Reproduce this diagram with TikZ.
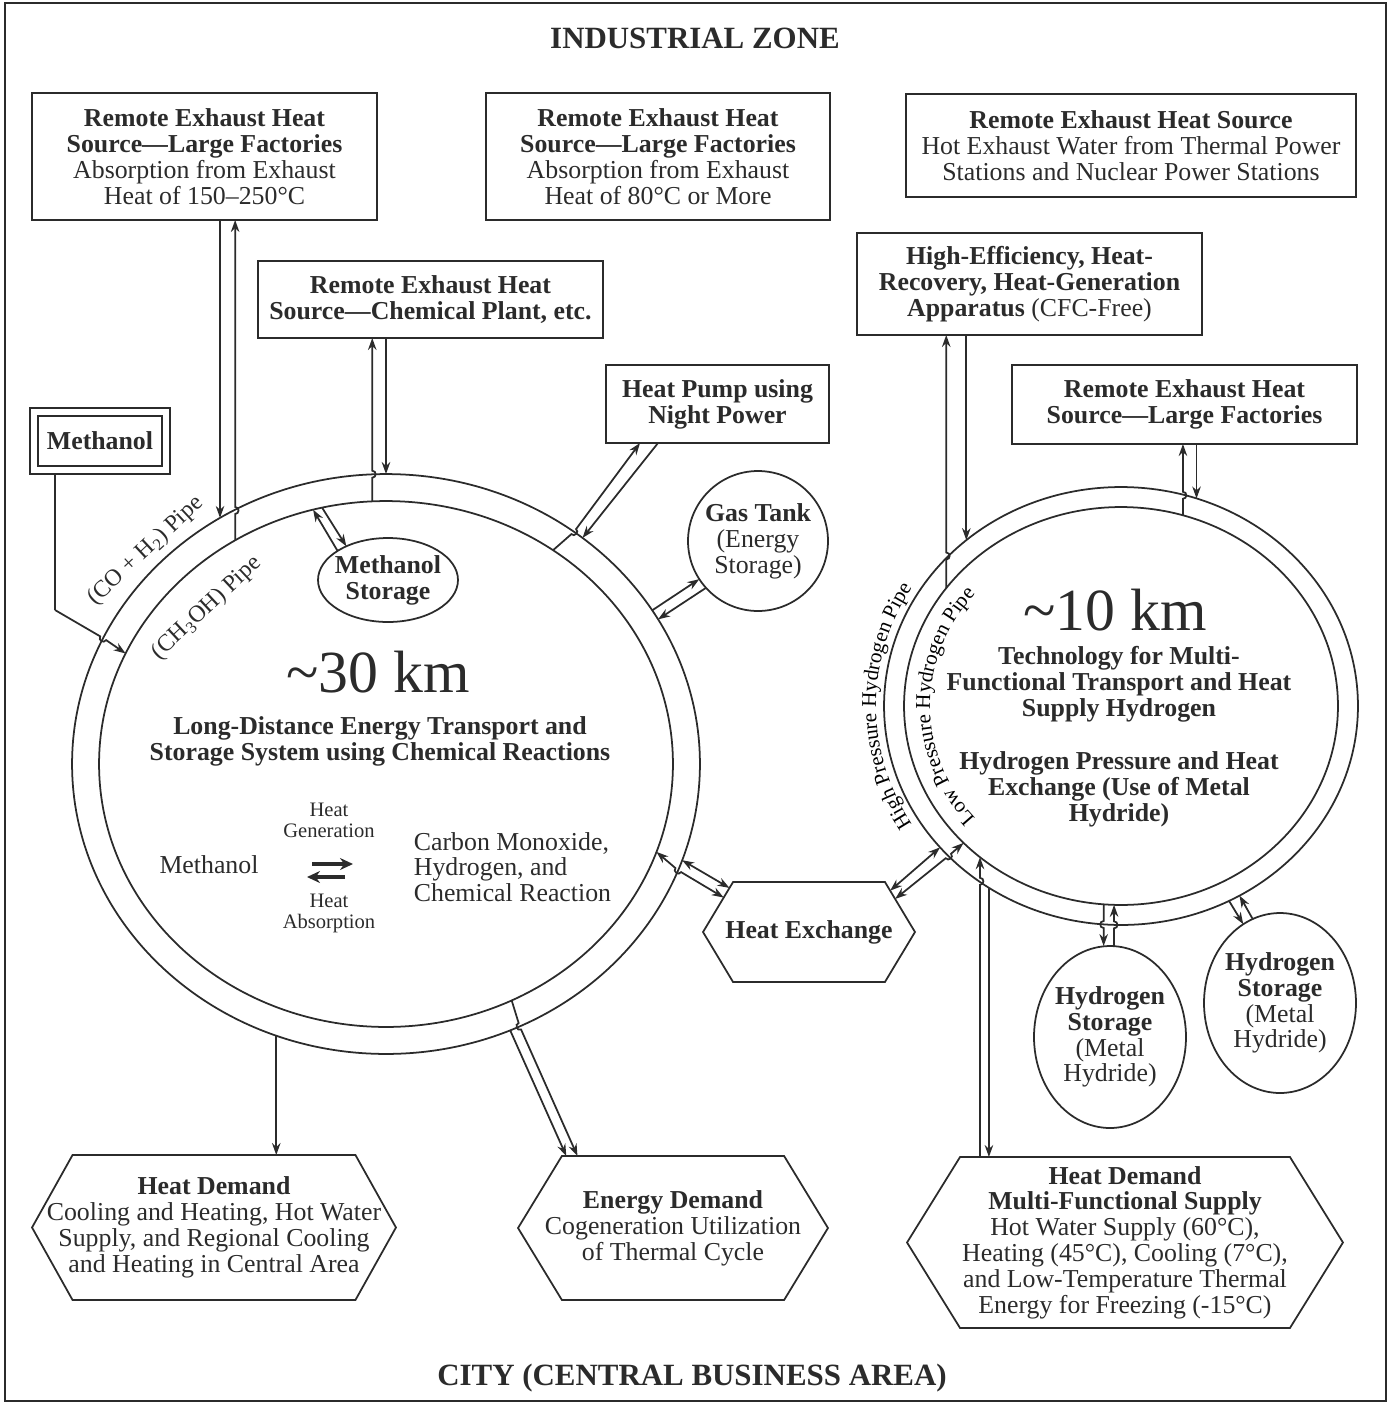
\documentclass[tikz,border=0pt]{standalone}
\usepackage{fontspec}
\setmainfont{Liberation Serif}
\usetikzlibrary{arrows.meta, calc, shapes.geometric, shapes.symbols, decorations.text}

\definecolor{ink}{HTML}{2B2B2B}

\newcommand{\fbody}{\fontsize{14.7}{14.7}\selectfont}
\newcommand{\fsmall}{\fontsize{11.7}{11.9}\selectfont}
\newcommand{\ftitle}{\fontsize{17.6}{20}\selectfont\bfseries}
\newcommand{\fkm}{\fontsize{34}{36}\selectfont}
\newcommand{\fpipe}{\fontsize{13.5}{15}\selectfont}
\newcommand{\fpipeR}{\fontsize{12}{14}\selectfont}

% line with a small jump where it crosses a ring
\newcommand{\hopline}[4][]{%
  \path ($(#3)!0.07cm!(#2)$) coordinate (hopA)
        ($(#3)!0.07cm!(#4)$) coordinate (hopB);
  \path ($(hopA)!0.09cm!-90:(#3)$) coordinate (hopCA)
        ($(hopB)!0.09cm!90:(#3)$) coordinate (hopCB);
  \draw[#1] (#2) -- (hopA) .. controls (hopCA) and (hopCB) .. (hopB) -- (#4);
}

\begin{document}
\begin{tikzpicture}[x=0.02cm, y=-0.02cm, line width=1pt, color=ink, font=\fbody,
    >={Stealth[length=0.24cm, width=0.17cm]},
    every node/.style={align=center},
    box/.style={draw, rectangle, inner sep=0pt, outer sep=0pt},
    ring/.style={draw, ellipse, inner sep=0pt, outer sep=0pt},
    tank/.style={draw, ellipse, inner sep=-4pt, outer sep=0pt},
    hexa/.style={draw, signal, signal to=west and east, signal pointer angle=#1,
                 inner ysep=0pt, inner xsep=-0.6cm, outer sep=0pt},
    rxarrow/.style={line width=2.2pt, -{Stealth[length=0.26cm, width=0.24cm]}}]

    \useasboundingbox (0,0) rectangle (1390,1404);
    \draw[line width=1.4pt] (5,3) rectangle (1386,1401);

    % --- zone titles ---
    \node[font=\ftitle] (ind) at (695,38) {INDUSTRIAL ZONE};
    \node[font=\ftitle] (city) at (692,1378) {CITY (CENTRAL BUSINESS AREA)};

    % --- heat sources ---
    \node[box, minimum width=6.9cm, minimum height=2.54cm] (A) at (204.5,156.5)
        {\textbf{Remote Exhaust Heat}\\\textbf{Source---Large Factories}\\Absorption from Exhaust\\Heat of 150--250°C};
    \node[box, minimum width=6.88cm, minimum height=2.54cm] (B) at (658,156.5)
        {\textbf{Remote Exhaust Heat}\\\textbf{Source---Large Factories}\\Absorption from Exhaust\\Heat of 80°C or More};
    \node[box, minimum width=9cm, minimum height=2.06cm] (C) at (1131,145.5)
        {\textbf{Remote Exhaust Heat Source}\\Hot Exhaust Water from Thermal Power\\Stations and Nuclear Power Stations};
    \node[box, minimum width=6.9cm, minimum height=1.54cm, font={\fbody\bfseries}] (D) at (430.5,299.5)
        {Remote Exhaust Heat\\Source---Chemical Plant, etc.};
    \node[box, minimum width=6.9cm, minimum height=2.04cm] (E) at (1029.5,284)
        {\textbf{High-Efficiency, Heat-}\\\textbf{Recovery, Heat-Generation}\\\textbf{Apparatus} (CFC-Free)};
    \node[box, minimum width=4.46cm, minimum height=1.56cm, font={\fbody\bfseries}] (F) at (717.5,404)
        {Heat Pump using\\Night Power};
    \node[box, minimum width=6.9cm, minimum height=1.58cm, font={\fbody\bfseries}] (G) at (1184.5,404.5)
        {Remote Exhaust Heat\\Source---Large Factories};
    \node[box, double, double distance=0.13cm, outer sep=0.09cm, minimum width=2.64cm,
          minimum height=1.16cm, font={\fbody\bfseries}] (MB) at (100,441) {Methanol};

    % --- the two rings ---
    \coordinate (Lc) at (386,764);
    \coordinate (Rc) at (1121,706);
    \node[ring, minimum width=12.56cm, minimum height=11.6cm] (Lout) at (Lc) {};
    \node[ring, minimum width=11.48cm, minimum height=10.52cm] (Lin) at (Lc) {};
    \node[ring, minimum width=9.48cm, minimum height=8.76cm] (Rout) at (Rc) {};
    \node[ring, minimum width=8.68cm, minimum height=7.96cm] (Rin) at (Rc) {};

    % pipe labels
    \node[font=\fpipe, rotate=43] (copipe) at (146,551) {(CO + H\textsubscript{2}) Pipe};
    \node[font=\fpipe, rotate=43] (chpipe) at (207,608) {(CH\textsubscript{3}OH) Pipe};
    \path[decorate, decoration={text along path, text align=center,
          text={|\fpipeR|High Pressure Hydrogen Pipe}}]
        ([shift={(215:4.9cm and 4.54cm)}]Rc) arc[start angle=215, end angle=145, x radius=4.9cm, y radius=4.54cm];
    \path[decorate, decoration={text along path, text align=center,
          text={|\fpipeR|Low Pressure Hydrogen Pipe}}]
        ([shift={(225:3.82cm and 3.46cm)}]Rc) arc[start angle=225, end angle=135, x radius=3.82cm, y radius=3.46cm];

    % --- inside the left ring ---
    \node[font=\fkm] (km30) at (378,672) {\textasciitilde30 km};
    \node[font={\fbody\bfseries}] (ldist) at (380,741)
        {Long-Distance Energy Transport and\\Storage System using Chemical Reactions};
    \node (meth) at (209,865) {Methanol};
    \node[font=\fsmall] (hgen) at (329,820) {Heat\\Generation};
    \node[font=\fsmall] (habs) at (329,913) {Heat\\Absorption};
    \node[anchor=west, align=left, inner xsep=0pt] (cmono) at (413,867) {Carbon Monoxide,\\Hydrogen, and\\Chemical Reaction};
    \coordinate (rxn) at (329,870.5);
    \draw[rxarrow] ([shift={(-17,-6.5)}]rxn) -- ([shift={(24,-6.5)}]rxn);
    \draw[rxarrow] ([shift={(16,6.5)}]rxn) -- ([shift={(-22,6.5)}]rxn);

    % --- inside the right ring ---
    \node[font=\fkm] (km10) at (1115,610) {\textasciitilde10 km};
    \node[font={\fbody\bfseries}] (tech) at (1119,684)
        {Technology for Multi-\\Functional Transport and Heat\\Supply Hydrogen};
    \node[font={\fbody\bfseries}] (hpx) at (1119,789)
        {Hydrogen Pressure and Heat\\Exchange (Use of Metal\\Hydride)};

    % --- storage and exchange ---
    \node[tank, minimum width=2.8cm, minimum height=1.68cm, font={\fbody\bfseries}] (MS) at (388,580)
        {Methanol\\Storage};
    \node[draw, circle, inner sep=0pt, outer sep=0pt, minimum size=2.8cm] (GT) at (758,541)
        {\textbf{Gas Tank}\\(Energy\\Storage)};
    \node[hexa=118, minimum width=4.24cm, minimum height=2cm, font={\fbody\bfseries}] (HX) at (809,932)
        {Heat Exchange};
    \node[tank, minimum width=3.04cm, minimum height=3.64cm] (HS1) at (1110,1037)
        {\textbf{Hydrogen}\\\textbf{Storage}\\(Metal\\Hydride)};
    \node[tank, minimum width=3.04cm, minimum height=3.6cm] (HS2) at (1280,1003)
        {\textbf{Hydrogen}\\\textbf{Storage}\\(Metal\\Hydride)};

    % --- demand ---
    \node[hexa=121.6, minimum width=7.28cm, minimum height=2.9cm] (LHD) at (214,1227.5)
        {\textbf{Heat Demand}\\Cooling and Heating, Hot Water\\Supply, and Regional Cooling\\and Heating in Central Area};
    \node[hexa=117.3, minimum width=6.2cm, minimum height=2.88cm] (ED) at (673,1228)
        {\textbf{Energy Demand}\\Cogeneration Utilization\\of Thermal Cycle};
    \node[hexa=116.4, minimum width=8.72cm, minimum height=3.42cm] (RHD) at (1125,1242.5)
        {\textbf{Heat Demand}\\\textbf{Multi-Functional Supply}\\Hot Water Supply (60°C),\\Heating (45°C), Cooling (7°C),\\and Low-Temperature Thermal\\Energy for Freezing (-15°C)};

    % --- connectors, left ring ---
    \draw[->] (A.south -| Lout.124.4) -- (Lout.124.4);
    \hopline[->]{Lin.124.5}{Lin.124.5 |- Lout.121.2}{A.south -| Lin.124.5}
    \draw[->] (D.south -| Lout.90.2) -- (Lout.90.2);
    \hopline[->]{Lin.93.05}{Lin.93.05 |- Lout.92.77}{D.south -| Lin.93.05}
    \draw[<-] (Lin.106.4) -- (MS.150.3);
    \draw[->] (Lin.104) -- (MS.141.2);
    \coordinate (mbk) at (55,610);
    \draw (MB.south -| mbk) -- (mbk);
    \hopline[->]{mbk}{Lout.156.6}{Lin.157.9}
    \hopline[->]{Lin.52.4}{Lout.51.9}{[xshift=-1.55cm]F.south}
    \draw[->] ([xshift=-1.19cm]F.south) -- (Lout.49.3);
    \draw[->] (Lout.30.1) -- (GT.213.9);
    \draw[->] (GT.222.7) -- (Lout.28);
    \hopline[<->]{Lin.342.5}{Lout.340.2}{HX.158.7}
    \draw[<->] (Lout.342.55) -- (HX.151.8);
    \draw[->] (Lout.248) -- (Lout.248 |- LHD.north);
    \hopline[->]{Lin.298.3}{Lout.297.7}{ED.143.1}
    \draw[->] (Lout.295) -- (ED.146.1);

    % --- connectors, right ring ---
    \draw[<->] (HX.27.9) -- (Rout.218.8);
    \hopline[<->]{HX.21.7}{Rout.221.4}{Rin.221.7}
    \draw[->] (E.south -| Rout.133.9) -- (Rout.133.9);
    \hopline[->]{Rin.146}{Rin.146 |- Rout.139.8}{E.south -| Rin.146}
    \draw[->] (G.south -| Rout.70.2) -- (Rout.70.2);
    \hopline[->]{Rin.72.3}{Rin.72.3 |- Rout.73.9}{G.south -| Rin.72.3}
    \hopline[->]{Rin.227 |- RHD.north}{Rin.227 |- Rout.231.3}{Rin.227}
    \draw[->] (Rout.234.9) -- (Rout.234.9 |- RHD.north);
    \hopline[->]{Rin.265.7}{Rin.265.7 |- Rout.266.1}{Rin.265.7 |- HS1.north}
    \hopline[->]{Rin.268.3 |- HS1.north}{Rin.268.3 |- Rout.268.4}{Rin.268.3}
    \draw[->] (Rout.299.8) -- (HS2.115.1);
    \draw[->] (HS2.108.4) -- (Rout.302.2);

\end{tikzpicture}
\end{document}
